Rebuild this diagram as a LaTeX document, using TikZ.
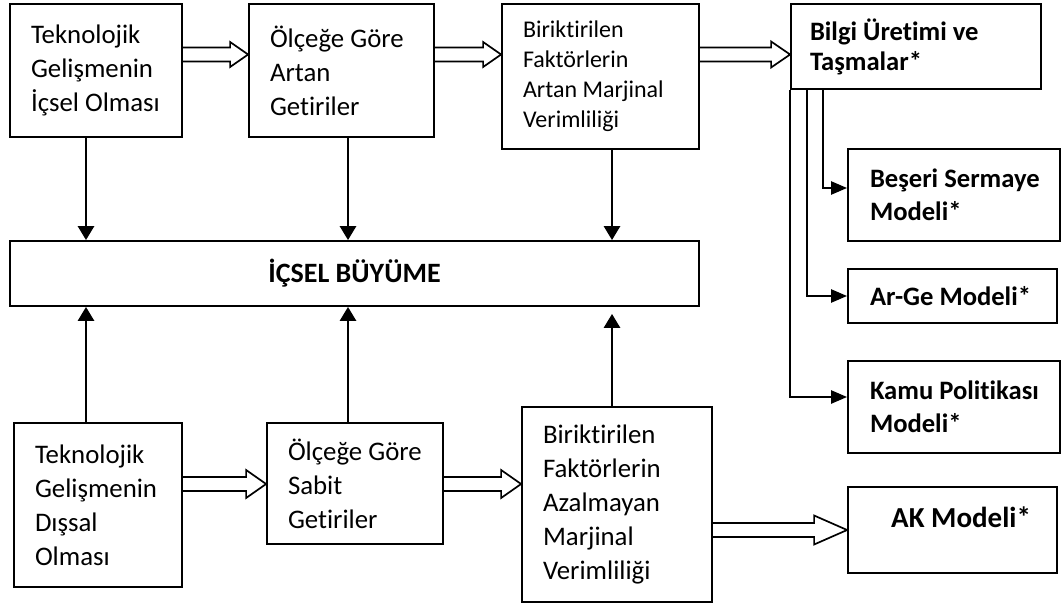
\documentclass[tikz,border=0pt]{standalone}
\usepackage{fontspec}
\setmainfont{Carlito}[Ligatures={NoCommon,NoContextual}]
\usetikzlibrary{arrows.meta,calc}
\tikzset{
  box/.style={draw, line width=1.8pt, rectangle, inner xsep=21pt, inner ysep=0pt, align=flush left},
  reg/.style={font=\fontsize{26.8}{34}\selectfont},
  smalltext/.style={font=\fontsize{24}{30}\selectfont},
  bld/.style={font=\bfseries\fontsize{26.6}{33}\selectfont},
  flow/.style={line width=2.8pt, -{Triangle[length=14pt,width=16pt]}},
  rflow/.style={line width=2.4pt, -{Triangle[length=16pt,width=13pt]}},
  hollow/.style={line width=1.7pt, line join=miter},
}
\newcommand\hollowarrow[4]{%
  \draw[hollow] let \p1=(#1), \p2=(#2) in
    (\x1,\y1+7pt) -- (\x2-#3,\y1+7pt) -- (\x2-#3,\y1+#4) -- (\x2,\y1)
    -- (\x2-#3,\y1-#4) -- (\x2-#3,\y1-7pt) -- (\x1,\y1-7pt);}
\begin{document}
\begin{tikzpicture}[x=1pt,y=1pt]
\useasboundingbox (0,0) rectangle (1063,-605);

% top row
\node[box,reg,text width=130pt,minimum height=133pt] (A) at (96,-70.5)
  {Teknolojik\\Gelişmenin\\İçsel Olması};
\node[box,reg,text width=143pt,minimum height=133pt] (B) at (341.5,-70.5)
  {Ölçeğe Göre\\Artan\\Getiriler};
\node[box,smalltext,text width=155pt,minimum height=145pt] (C) at (600.5,-76.5)
  {Biriktirilen\\Faktörlerin\\Artan Marjinal\\Verimliliği};
\node[box,bld,font=\bfseries\fontsize{26.6}{30}\selectfont,inner xsep=19pt,text width=212pt,minimum height=85pt] (D) at (916,-46.5)
  {\mbox{Bilgi Üretimi ve}\\Taşmalar*};

% right column
\node[box,bld,inner xsep=22pt,text width=168pt,minimum height=92pt] (Bes) at (954,-195)
  {\mbox{Beşeri Sermaye}\\Modeli*};
\node[box,bld,inner xsep=22pt,text width=165pt,minimum height=54pt] (ArGe) at (952.5,-296)
  {\mbox{Ar-Ge Modeli*}};
\node[box,bld,inner xsep=22pt,text width=168pt,minimum height=92pt] (Kamu) at (954,-407)
  {\mbox{Kamu Politikası}\\Modeli*};
\node[draw,line width=1.8pt,minimum width=209pt,minimum height=86pt,inner sep=0pt] (AK) at (952.5,-530) {};
\node[font=\bfseries\fontsize{29}{34}\selectfont,anchor=west,inner sep=0pt] (AKt) at (891,-517) {AK Modeli*};

% middle
\node[draw,line width=1.8pt,minimum width=689pt,minimum height=65pt,inner sep=0pt,
      font=\bfseries\fontsize{28}{34}\selectfont] (I) at (354.5,-273.5) {\raisebox{2pt}{İÇSEL BÜYÜME}};

% bottom row
\node[box,reg,text width=126pt,minimum height=164pt] (E) at (98,-505)
  {Teknolojik\\Gelişmenin\\Dışsal\\Olması};
\node[box,reg,text width=134pt,minimum height=121pt] (F) at (355,-483.5)
  {Ölçeğe Göre\\Sabit\\Getiriler};
\node[box,reg,text width=148pt,minimum height=195pt] (G) at (617,-504.5)
  {Biriktirilen\\Faktörlerin\\Azalmayan\\Marjinal\\Verimliliği};

% helper coordinates
\coordinate (c1) at (86,0);
\coordinate (c2) at (348,0);
\coordinate (c3) at (612,0);
\coordinate (k2) at (807,0);
\coordinate (k3) at (823,0);
\coordinate (r1) at (0,-54.5);
\coordinate (r2) at (0,-484);
\coordinate (r3) at (0,-530);

% vertical arrows
\draw[flow] (A.south -| c1) -- (I.north -| c1);
\draw[flow] (B.south -| c2) -- (I.north -| c2);
\draw[flow] (C.south -| c3) -- (I.north -| c3);
\draw[flow] (E.north -| c1) -- (I.south -| c1);
\draw[flow] (F.north -| c2) -- (I.south -| c2);
\draw[flow,shorten >=7pt] (G.north -| c3) -- (I.south -| c3);

% right column connectors
\draw[rflow] (D.south -| k3) |- ([yshift=7pt]Bes.west);
\draw[rflow] (D.south -| k2) |- (ArGe.west);
\draw[rflow] (D.south west) |- ([yshift=10pt]Kamu.west);

% hollow arrows
\hollowarrow{A.east |- r1}{B.west}{18pt}{12.5pt}
\hollowarrow{B.east |- r1}{C.west}{18pt}{12.5pt}
\hollowarrow{C.east |- r1}{D.west}{19pt}{13pt}
\hollowarrow{E.east |- r2}{F.west}{20pt}{14pt}
\hollowarrow{F.east |- r2}{G.west}{20pt}{14pt}
\hollowarrow{G.east |- r3}{AK.west}{33pt}{14.5pt}
\end{tikzpicture}
\end{document}
